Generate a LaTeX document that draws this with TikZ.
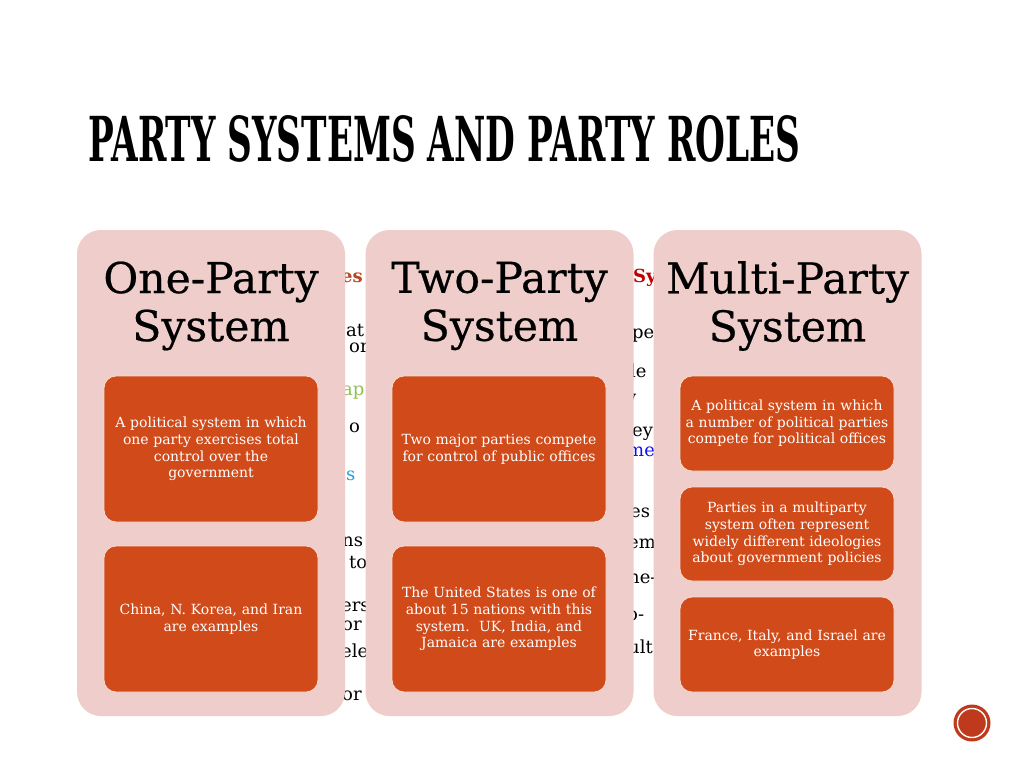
\documentclass[tikz,border=0pt]{standalone}
\usepackage{graphicx}
\usepackage{fontspec}
\setmainfont{DejaVu Serif}
\newfontfamily\headfont[FakeBold=0.5]{DejaVu Serif}
\usepackage{tikz}

\definecolor{panelpink}{HTML}{EECDCB}
\definecolor{cardrust}{HTML}{D04A1A}
\definecolor{cardedge}{HTML}{F6DDCF}
\definecolor{badgered}{HTML}{BF3A1C}
\definecolor{peekrust}{HTML}{B8461E}
\definecolor{peekgreen}{HTML}{92C050}
\definecolor{peekcyan}{HTML}{1FA0E0}
\definecolor{peekred}{HTML}{C00000}
\definecolor{peekblue}{HTML}{1010EE}

\begin{document}
\begin{tikzpicture}[x=1pt,y=-1pt,
  panel/.style={fill=panelpink, rounded corners=24pt, minimum width=268pt, minimum height=486pt, inner sep=0pt},
  card/.style={fill=cardrust, draw=cardedge, line width=0.8pt, rounded corners=12pt, minimum width=214pt, text width=210pt, align=center, text=white, font=\fontsize{14}{16.6}\selectfont, inner sep=0pt},
  heading/.style={font=\headfont\fontsize{42.5}{48}\selectfont, align=center, inner sep=0pt},
  peek/.style={anchor=base west, inner sep=0pt, font=\fontsize{18}{18}\selectfont}]
\useasboundingbox (0,0) rectangle (1024,768);
\fill [white] (0,0) rectangle (1024,768);

% title
\node [anchor=south west, inner sep=0pt] (title) at (88,163) {\resizebox{712pt}{46pt}{\bfseries PARTY SYSTEMS AND PARTY ROLES}};

% text showing between the panels
\node [peek, text=peekrust, font=\fontsize{18}{18}\selectfont\bfseries] (p1a) at (341,282) {es};
\node [peek] (p1b) at (346,336) {at};
\node [peek] (p1c) at (349,352) {or};
\node [peek, text=peekgreen] (p1d) at (342,395) {ap};
\node [peek] (p1e) at (349,432) {o};
\node [peek, text=peekcyan] (p1f) at (346,480) {s};
\node [peek] (p1g) at (342,546) {ns};
\node [peek] (p1h) at (349,568) {to};
\node [peek] (p1i) at (341,611) {ers};
\node [peek] (p1j) at (342,630) {or};
\node [peek] (p1k) at (341,657) {ele};
\node [peek] (p1l) at (342,700) {or};
\node [peek, text=peekred, font=\fontsize{18}{18}\selectfont\bfseries] (p2a) at (633,282) {Sy};
\node [peek] (p2b) at (632,338) {pe};
\node [peek] (p2c) at (630,377) {le};
\node [peek] (p2d) at (626,403) {y};
\node [peek] (p2e) at (632,436) {ey};
\node [peek, text=peekblue] (p2f) at (627,456) {me};
\node [peek] (p2g) at (630,517) {es};
\node [peek] (p2h) at (628,548) {em};
\node [peek] (p2i) at (628,583) {ne-};
\node [peek] (p2j) at (627,620) {o-};
\node [peek] (p2k) at (628,653) {ult};

% panels
\node [panel] (onep) at (211,473) {};
\node [panel] (twop) at (499.5,473) {};
\node [panel] (multip) at (787.5,473) {};

\node [heading] (onehead) at (211,306) {One-Party\\System};
\node [heading] (twohead) at (499.5,306) {Two-Party\\System};
\node [heading] (multihead) at (787.5,306) {Multi-Party\\System};

% cards
\node [card, minimum height=146pt] (onedef) at (211,449) {A political system in which\\one party exercises total\\control over the\\government};
\node [card, minimum height=146pt] (oneex) at (211,619) {China, N. Korea, and Iran\\are examples};
\node [card, minimum height=146pt] (twodef) at (499,449) {Two major parties compete\\for control of public offices};
\node [card, minimum height=146pt] (twoex) at (499,619) {The United States is one of\\about 15 nations with this\\system.\ \ UK, India, and\\Jamaica are examples};
\node [card, minimum height=95pt] (multidef) at (787,423.5) {A political system in which\\a number of political parties\\compete for political offices};
\node [card, minimum height=94pt] (multiideo) at (787,534) {Parties in a multiparty\\system often represent\\widely different ideologies\\about government policies};
\node [card, minimum height=95pt] (multiex) at (787,644.5) {France, Italy, and Israel are\\examples};

% badge
\node [circle, fill=badgered, minimum size=37pt, inner sep=0pt] (badge) at (972,723) {};
\draw [white, line width=1.4pt] (badge.center) circle (14.5);
\end{tikzpicture}
\end{document}
